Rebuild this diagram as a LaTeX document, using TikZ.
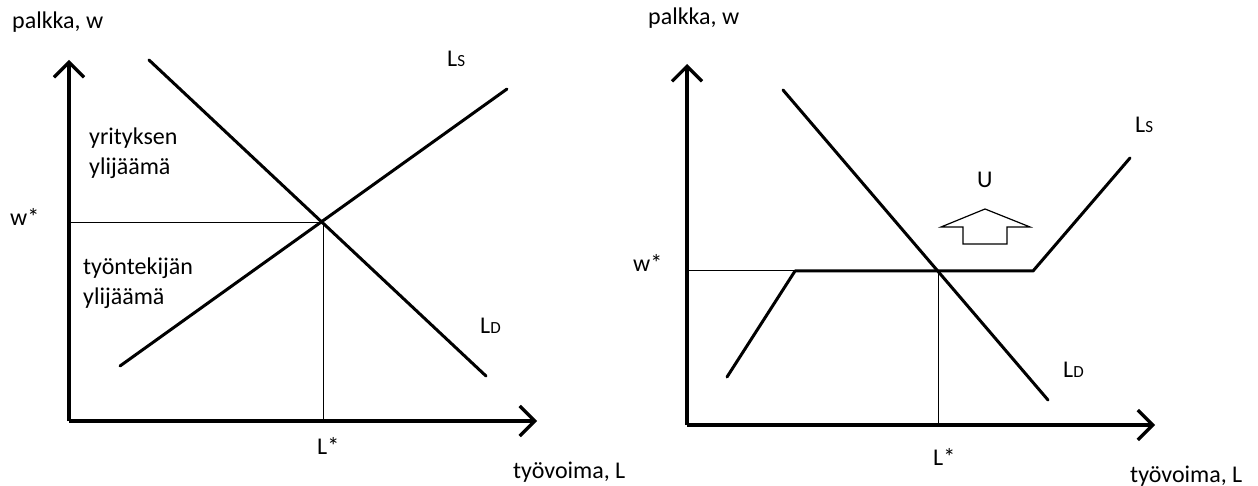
\documentclass[tikz,border=0pt]{standalone}
\usepackage{fontspec}
\setmainfont{Carlito}
\usetikzlibrary{arrows.meta}
\tikzset{
  axisline/.style={line width=3.2pt,-{Straight Barb[length=15pt,width=30pt]}},
  curve/.style={line width=3pt,line cap=round},
  guide/.style={line width=1pt},
  lbl/.style={anchor=base west,inner sep=0pt,font=\fontsize{24}{30}\selectfont},
}
\newcommand{\subsm}[1]{{\fontsize{17}{17}\selectfont #1}}
\begin{document}
\begin{tikzpicture}[x=1pt,y=-1pt]
\useasboundingbox (0,0) rectangle (1258,486);
% ---------- left chart ----------
\coordinate (O1) at (69,421);
\coordinate (Y1) at (69,60);
\coordinate (X1) at (537,421);
\draw[axisline] (O1) -- (Y1);
\draw[axisline] (O1) -- (X1);
\coordinate (D1a) at (149,60);
\coordinate (D1b) at (486,376);
\coordinate (S1a) at (120,366);
\coordinate (S1b) at (507,89);
\coordinate (E1) at (323,223);
\coordinate (W1) at (69,223);
\coordinate (B1) at (323,421);
\draw[guide] (W1) -- (E1) -- (B1);
\draw[curve] (D1a) -- (D1b);
\draw[curve] (S1a) -- (S1b);
\node[lbl] (p1) at (12,29) {palkka, w};
\node[lbl] (w1) at (10,226) {w*};
\node[lbl] (l1) at (317,454) {L*};
\node[lbl] (t1) at (513,478) {työvoima, L};
\node[lbl] (ls1) at (447,67) {L\subsm{S}};
\node[lbl] (ld1) at (480,334) {L\subsm{D}};
\node[lbl] (y1a) at (89,145) {yrityksen};
\node[lbl] (y1b) at (89,175) {ylijäämä};
\node[lbl] (y2a) at (83,275) {työntekijän};
\node[lbl] (y2b) at (83,305) {ylijäämä};
% ---------- right chart ----------
\coordinate (O2) at (687,425);
\coordinate (Y2) at (687,64);
\coordinate (X2) at (1155,425);
\draw[axisline] (O2) -- (Y2);
\draw[axisline] (O2) -- (X2);
\coordinate (D2a) at (783,90);
\coordinate (D2b) at (1048,400);
\coordinate (S2a) at (727,377);
\coordinate (S2b) at (795,271);
\coordinate (S2c) at (1033,271);
\coordinate (S2d) at (1130,158);
\coordinate (E2) at (938,271);
\coordinate (W2) at (687,271);
\coordinate (B2) at (938,425);
\draw[guide] (W2) -- (S2b);
\draw[guide] (E2) -- (B2);
\draw[curve,line join=round] (S2a) -- (S2b) -- (S2c) -- (S2d);
\draw[curve] (D2a) -- (D2b);
\draw[line width=1.2pt,line join=miter]
  (985,209) -- (1030,227) -- (1007,227) -- (1007,244) -- (963,244) -- (963,227) -- (941,227) -- cycle;
\node[lbl] (p2) at (648,25) {palkka, w};
\node[lbl] (w2) at (633,272) {w*};
\node[lbl] (l2) at (933,465) {L*};
\node[lbl] (t2) at (1130,482) {työvoima, L};
\node[lbl] (ls2) at (1135,133) {L\subsm{S}};
\node[lbl] (ld2) at (1063,377) {L\subsm{D}};
\node[lbl] (u) at (977,188) {U};
\end{tikzpicture}
\end{document}
